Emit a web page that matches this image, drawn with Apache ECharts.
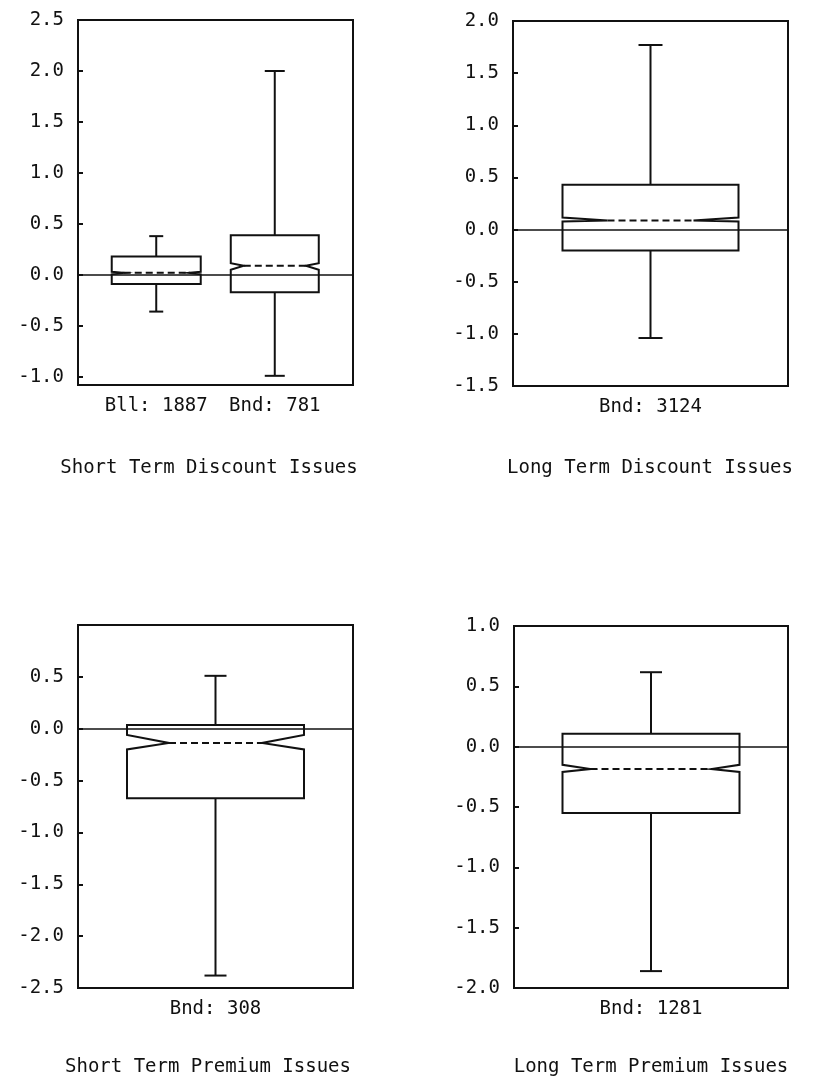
<!DOCTYPE html>
<html>
<head>
<meta charset="utf-8">
<script src="https://cdn.jsdelivr.net/npm/echarts@6/dist/echarts.min.js"></script>
<style>
html,body{margin:0;padding:0;background:#fff;}
#chart{width:823px;height:1088px;}
</style>
</head>
<body>
<div id="chart"></div>
<script>
// ---------- DATA ----------
// box stats: [lower whisker, Q1, median, Q3, upper whisker]; notch: [lower, upper]
const stdNames = ['Bll: 1887', 'Bnd: 781'];
const stdBoxes = [[-0.36, -0.09, 0.02, 0.18, 0.38], [-0.99, -0.17, 0.09, 0.39, 2.0]];
const stdNotches = [[0.005, 0.03], [0.05, 0.115]];
const stdRange = [-1.08, 2.5];
const stdTicks = [-1.0, -0.5, 0.0, 0.5, 1.0, 1.5, 2.0, 2.5];

const ltdNames = ['Bnd: 3124'];
const ltdBoxes = [[-1.04, -0.2, 0.087, 0.43, 1.77]];
const ltdNotches = [[0.077, 0.115]];
const ltdRange = [-1.5, 2.0];
const ltdTicks = [-1.5, -1.0, -0.5, 0.0, 0.5, 1.0, 1.5, 2.0];

const stpNames = ['Bnd: 308'];
const stpBoxes = [[-2.38, -0.67, -0.137, 0.035, 0.51]];
const stpNotches = [[-0.2, -0.06]];
const stpRange = [-2.5, 1.0];
const stpTicks = [-2.5, -2.0, -1.5, -1.0, -0.5, 0.0, 0.5];

const ltpNames = ['Bnd: 1281'];
const ltpBoxes = [[-1.86, -0.55, -0.185, 0.108, 0.617]];
const ltpNotches = [[-0.21, -0.15]];
const ltpRange = [-2.0, 1.0];
const ltpTicks = [-2.0, -1.5, -1.0, -0.5, 0.0, 0.5, 1.0];

const titles = ['Short Term Discount Issues', 'Long Term Discount Issues',
                'Short Term Premium Issues', 'Long Term Premium Issues'];

// ---------- LAYOUT / STYLE ----------
const FONT = '"DejaVu Sans Mono", "Liberation Mono", monospace';
const INK = '#111';
const LW = 2;
const layouts = [
  {grid: {left: 78, top: 20, width: 275, height: 365}, xRange: [-0.66, 1.66], boxW: [89, 88], notchD: [12, 13], cap: [14, 20], title: [209, 468]},
  {grid: {left: 513, top: 21, width: 275, height: 365}, xRange: [-1, 1], boxW: [176], notchD: [45], cap: [24], title: [650, 468]},
  {grid: {left: 78, top: 625, width: 275, height: 363}, xRange: [-1, 1], boxW: [177], notchD: [42], cap: [22], title: [208, 1067]},
  {grid: {left: 514, top: 626, width: 274, height: 362}, xRange: [-1, 1], boxW: [177], notchD: [28], cap: [22], title: [651, 1067]}
];
const panels = [
  {names: stdNames, boxes: stdBoxes, notches: stdNotches, range: stdRange, ticks: stdTicks},
  {names: ltdNames, boxes: ltdBoxes, notches: ltdNotches, range: ltdRange, ticks: ltdTicks},
  {names: stpNames, boxes: stpBoxes, notches: stpNotches, range: stpRange, ticks: stpTicks},
  {names: ltpNames, boxes: ltpBoxes, notches: ltpNotches, range: ltpRange, ticks: ltpTicks}
];

const grids = [], xAxes = [], yAxes = [], series = [], graphics = [];

panels.forEach((p, i) => {
  const L = layouts[i];
  grids.push(Object.assign({show: true, borderColor: INK, borderWidth: LW, backgroundColor: 'transparent'}, L.grid));
  const xIdx = p.names.map((n, k) => k);
  xAxes.push({
    type: 'value', gridIndex: i, min: L.xRange[0], max: L.xRange[1], position: 'bottom',
    axisLine: {show: false, onZero: false}, axisTick: {show: false}, splitLine: {show: false},
    axisLabel: {
      customValues: xIdx, margin: 12, color: INK, fontFamily: FONT, fontSize: 19,
      formatter: v => p.names[Math.round(v)] || ''
    }
  });
  yAxes.push({
    type: 'value', gridIndex: i, min: p.range[0], max: p.range[1], position: 'left',
    axisLine: {show: false, onZero: false}, splitLine: {show: false},
    axisTick: {show: true, inside: true, length: 5, customValues: p.ticks, lineStyle: {color: INK, width: LW}},
    axisLabel: {customValues: p.ticks, margin: 14, color: INK, fontFamily: FONT, fontSize: 19,
      formatter: v => v.toFixed(1)}
  });
  const data = p.boxes.map((b, k) => [k, b[0], b[1], b[2], b[3], b[4], p.notches[k][0], p.notches[k][1]]);
  series.push({
    type: 'custom', xAxisIndex: i, yAxisIndex: i,
    encode: {x: 0, y: [1, 2, 3, 4, 5, 6, 7]},
    data: data,
    renderItem: function (params, api) {
      const k = params.dataIndex;
      const x = api.value(0);
      const yOf = v => api.coord([x, v])[1];
      const cx = api.coord([x, 0])[0];
      const hw = L.boxW[k] / 2;
      const d = L.notchD[k];
      const cap = L.cap[k] / 2;
      const yMin = yOf(api.value(1)), yQ1 = yOf(api.value(2)), yMed = yOf(api.value(3)),
            yQ3 = yOf(api.value(4)), yMax = yOf(api.value(5)),
            yNLo = yOf(api.value(6)), yNHi = yOf(api.value(7));
      const l = cx - hw, r = cx + hw;
      const st = {stroke: INK, lineWidth: LW, fill: null};
      return {
        type: 'group',
        children: [
          {type: 'polygon', shape: {points: [
            [l, yQ3], [r, yQ3], [r, yNHi], [r - d, yMed], [r, yNLo], [r, yQ1],
            [l, yQ1], [l, yNLo], [l + d, yMed], [l, yNHi]
          ]}, style: st},
          {type: 'line', shape: {x1: cx, y1: yQ3, x2: cx, y2: yMax}, style: st},
          {type: 'line', shape: {x1: cx - cap, y1: yMax, x2: cx + cap, y2: yMax}, style: st},
          {type: 'line', shape: {x1: cx, y1: yQ1, x2: cx, y2: yMin}, style: st},
          {type: 'line', shape: {x1: cx - cap, y1: yMin, x2: cx + cap, y2: yMin}, style: st},
          {type: 'line', shape: {x1: l + d, y1: yMed, x2: r - d, y2: yMed},
            style: {stroke: INK, lineWidth: LW, lineDash: [7, 4]}}
        ]
      };
    },
    markLine: {
      silent: true, symbol: 'none', animation: false,
      label: {show: false},
      lineStyle: {color: INK, width: 1.5, type: 'solid'},
      data: [{yAxis: 0}]
    },
    animation: false
  });
  graphics.push({
    type: 'text', x: L.title[0], y: L.title[1],
    style: {text: titles[i], textAlign: 'center', textVerticalAlign: 'middle',
      fill: INK, font: '19px ' + FONT}
  });
});

const chart = echarts.init(document.getElementById('chart'), null, {renderer: 'canvas'});
chart.setOption({
  backgroundColor: '#fff',
  animation: false,
  grid: grids,
  xAxis: xAxes,
  yAxis: yAxes,
  series: series,
  graphic: graphics
});
</script>
</body>
</html>
